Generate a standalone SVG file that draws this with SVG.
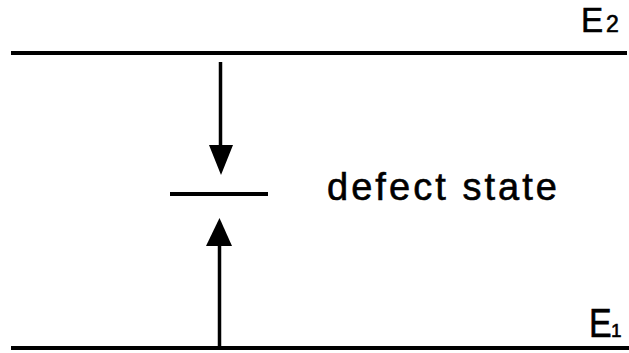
<svg xmlns="http://www.w3.org/2000/svg" width="629" height="353" viewBox="0 0 629 353">
<style>
.lvl{stroke:#000;stroke-width:4;fill:none}
.shaft{stroke:#000;stroke-width:3.5;fill:none}
.head{fill:#000}
.t{font-family:"Liberation Sans",Arial,sans-serif;fill:#000;stroke:#000;stroke-width:0.6}
</style>
<rect width="629" height="353" fill="#fff"/>
<g id="E2">
<line class="lvl" x1="11" y1="53" x2="627" y2="53"/>
<text class="t" x="581" y="32" font-size="35" transform="translate(581 32) scale(0.95 1) translate(-581 -32)">E</text>
<text class="t" x="606" y="32" font-size="23">2</text>
</g>
<g id="E1">
<line class="lvl" x1="11" y1="348" x2="629" y2="348"/>
<text class="t" x="589" y="337" font-size="40" transform="translate(589 337) scale(0.85 1) translate(-589 -337)">E</text>
<text class="t" x="611" y="337" font-size="19">1</text>
</g>
<g id="defect">
<line class="lvl" x1="170" y1="194" x2="268" y2="194"/>
<text class="t" x="327" y="200" font-size="38" textLength="230" lengthAdjust="spacing">defect state</text>
</g>
<g id="connectors">
<line class="shaft" x1="220.5" y1="62" x2="220.5" y2="150"/>
<polygon class="head" points="209,145 233,145 221,175"/>
<line class="shaft" x1="219.5" y1="240" x2="219.5" y2="346"/>
<polygon class="head" points="219.5,218 206,246 232,246"/>
</g>
</svg>
